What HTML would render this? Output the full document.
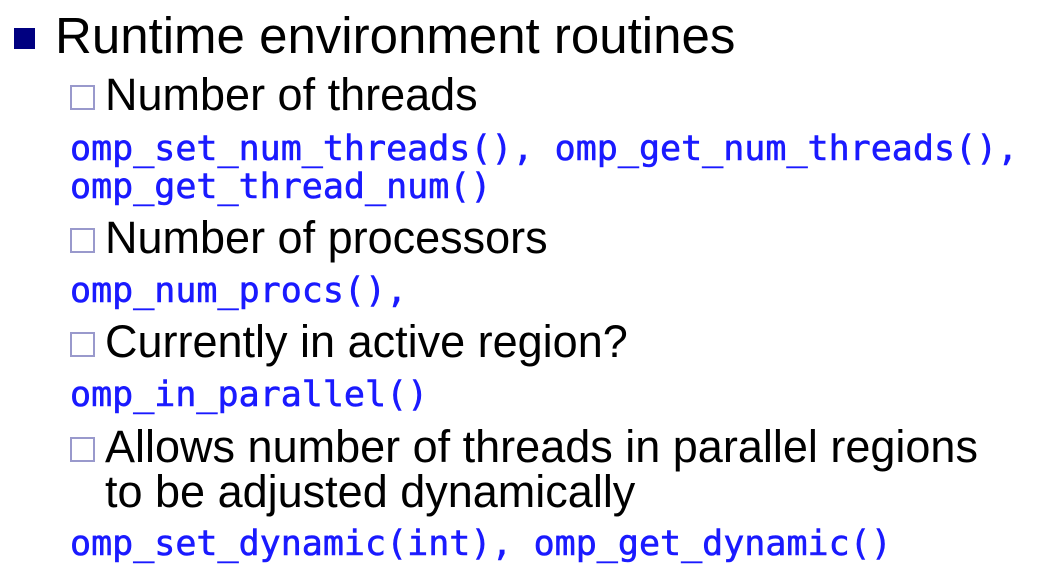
<!DOCTYPE html>
<html><head><meta charset="utf-8"><style>
html,body{margin:0;padding:0;background:#fff;width:1052px;height:580px;overflow:hidden;position:relative}
.t{position:absolute;white-space:nowrap;line-height:1;font-family:"Liberation Sans",Arial,sans-serif;color:#000}
.h{font-size:51px}
.s{font-size:45px}
.m{font-family:"DejaVu Sans Mono","Liberation Mono",monospace;font-size:35px;color:#1a1aff;-webkit-text-stroke:0.6px #1a1aff}
.b{position:absolute;width:21px;height:21px;border:2px solid #9999cc;box-sizing:content-box}
.sq{position:absolute;left:14px;top:28px;width:21px;height:21px;background:#000080}
</style></head><body>
<div class="sq"></div>
<div class="t h" style="left:55px;top:10px">Runtime environment routines</div>

<div class="b" style="left:70px;top:85px"></div>
<div class="t s" style="left:105px;top:72px">Number of threads</div>
<div class="t m" style="left:70px;top:132px">omp_set_num_threads(), omp_get_num_threads(),</div>
<div class="t m" style="left:70px;top:170px">omp_get_thread_num()</div>

<div class="b" style="left:70px;top:228px"></div>
<div class="t s" style="left:105px;top:215px">Number of processors</div>
<div class="t m" style="left:70px;top:274px">omp_num_procs(),</div>

<div class="b" style="left:70px;top:332px"></div>
<div class="t s" style="left:105px;top:319px">Currently in active region?</div>
<div class="t m" style="left:70px;top:378px">omp_in_parallel()</div>

<div class="b" style="left:70px;top:437px"></div>
<div class="t s" style="left:105px;top:424px">Allows number of threads in parallel regions</div>
<div class="t s" style="left:105px;top:469px">to be adjusted dynamically</div>
<div class="t m" style="left:70px;top:527px">omp_set_dynamic(int), omp_get_dynamic()</div>
</body></html>
